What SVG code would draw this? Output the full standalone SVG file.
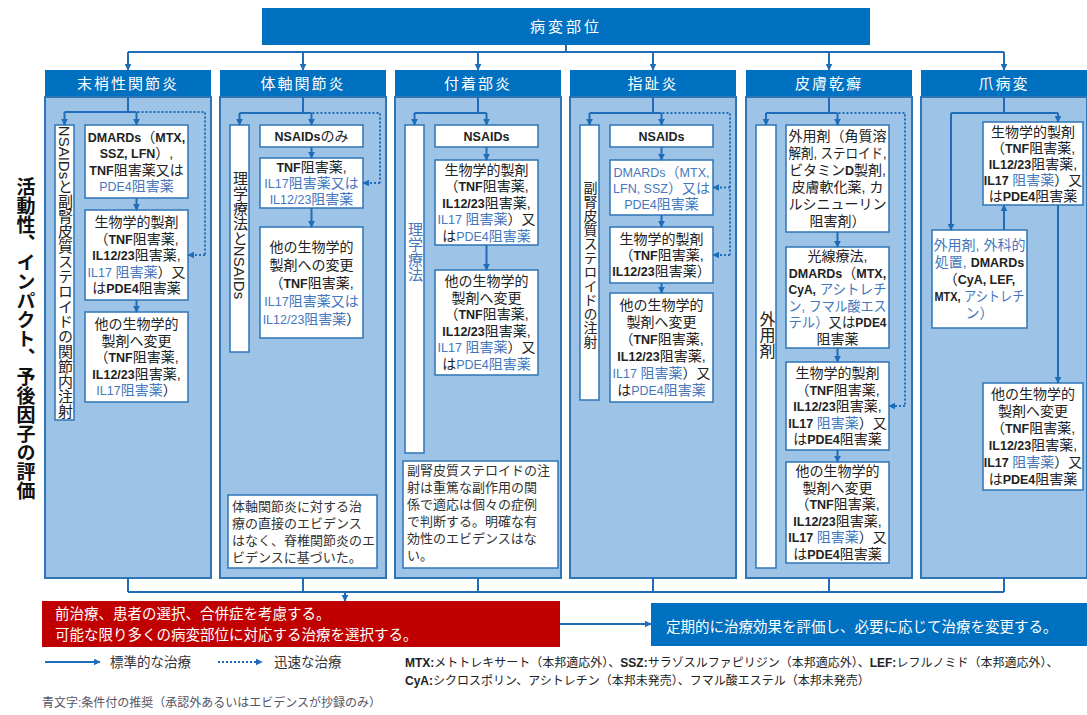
<svg xmlns="http://www.w3.org/2000/svg" width="1087" height="715" viewBox="0 0 1087 715">
<style>
.hd{fill:#0070c0}
.bd{fill:#9dc3e6;stroke:#2e75b6;stroke-width:2}
.bx{fill:#fff;stroke:#2e75b6;stroke-width:1.5}
.ln{fill:none;stroke:#1f6db8;stroke-width:2}
.dt{fill:none;stroke:#1f6db8;stroke-width:2;stroke-dasharray:2 2}
.ar{marker-end:url(#ah)}
text{font-family:"Liberation Sans","Noto Sans CJK JP",sans-serif}
.t{font-size:14px;fill:#222;text-anchor:middle}
.L{font-weight:bold;font-size:12.5px}
.l{font-size:12.5px}
.B{fill:#4677bd}
.h{font-size:15px;fill:#fff;text-anchor:middle;letter-spacing:2px}
.v{writing-mode:vertical-rl;text-anchor:middle;font-size:15px;fill:#222}
.n{font-size:13px;fill:#333}
.w{font-size:14.5px;fill:#fff}
.f{font-size:12px;fill:#222}
</style>
<defs>
<marker id="ah" viewBox="0 0 10 10" refX="9" refY="5" markerWidth="7" markerHeight="7" markerUnits="userSpaceOnUse" orient="auto"><path d="M0,0 L10,5 L0,10 z" fill="#1f6db8"/></marker>
</defs>

<g id="top">
<rect class="hd" x="262" y="8" width="608" height="37"/>
<text class="h" x="566" y="32" style="letter-spacing:3px">病変部位</text>
</g>

<text id="side-label" x="24" y="339" style="writing-mode:vertical-rl;text-anchor:middle;font-size:19px;font-weight:bold;fill:#111">活動性、インパクト、予後因子の評価</text>

<!-- Column 1 -->
<g id="col1">
<rect class="hd" x="45" y="70" width="166" height="27"/>
<text class="h" x="128" y="89">末梢性関節炎</text>
<rect class="bd" x="45" y="97" width="166" height="481"/>
</g>
<g id="c1-left"><rect class="bx" x="55" y="125" width="19" height="295"/>
<text class="v" x="64.5" y="272.5">NSAIDsと副腎皮質ステロイドの関節内注射</text></g>
<g id="c1-b1"><rect class="bx" x="85" y="125" width="103" height="73"/>
<text class="t" x="136.5" y="142"><tspan class="L">DMARDs</tspan>（<tspan class="L">MTX,</tspan></text>
<text class="t" x="136.5" y="158"><tspan class="L">SSZ, LFN</tspan>）,</text>
<text class="t" x="136.5" y="175"><tspan class="L">TNF</tspan>阻害薬又は</text>
<text class="t" x="136.5" y="191"><tspan class="B l">PDE4</tspan><tspan class="B">阻害薬</tspan></text></g>
<g id="c1-b2"><rect class="bx" x="85" y="210" width="103" height="90"/>
<text class="t" x="136.5" y="227">生物学的製剤</text>
<text class="t" x="136.5" y="243.5">（<tspan class="L">TNF</tspan>阻害薬,</text>
<text class="t" x="136.5" y="260"><tspan class="L">IL12/23</tspan>阻害薬,</text>
<text class="t" x="136.5" y="276.5"><tspan class="B l">IL17 </tspan><tspan class="B">阻害薬</tspan>）又</text>
<text class="t" x="136.5" y="293">は<tspan class="L">PDE4</tspan>阻害薬</text></g>
<g id="c1-b3"><rect class="bx" x="85" y="312" width="103" height="90"/>
<text class="t" x="136.5" y="329">他の生物学的</text>
<text class="t" x="136.5" y="345.5">製剤へ変更</text>
<text class="t" x="136.5" y="362">（<tspan class="L">TNF</tspan>阻害薬,</text>
<text class="t" x="136.5" y="378.5"><tspan class="L">IL12/23</tspan>阻害薬,</text>
<text class="t" x="136.5" y="395"><tspan class="B l">IL17</tspan><tspan class="B">阻害薬</tspan>）</text></g>

<!-- Column 2 -->
<g id="col2">
<rect class="hd" x="220" y="70" width="166" height="27"/>
<text class="h" x="303" y="89">体軸関節炎</text>
<rect class="bd" x="220" y="97" width="166" height="481"/>
</g>
<g id="c2-left"><rect class="bx" x="230" y="125" width="19" height="227"/>
<text class="v" x="239.5" y="235">理学療法とNSAIDs</text></g>
<g id="c2-b1"><rect class="bx" x="260" y="125" width="103" height="22"/>
<text class="t" x="311.5" y="141"><tspan class="L">NSAIDs</tspan>のみ</text></g>
<g id="c2-b2"><rect class="bx" x="260" y="158" width="103" height="50"/>
<text class="t" x="311.5" y="172"><tspan class="L">TNF</tspan>阻害薬,</text>
<text class="t" x="311.5" y="188"><tspan class="B l">IL17</tspan><tspan class="B">阻害薬又は</tspan></text>
<text class="t" x="311.5" y="204"><tspan class="B l">IL12/23</tspan><tspan class="B">阻害薬</tspan></text></g>
<g id="c2-b3"><rect class="bx" x="260" y="227" width="103" height="111"/>
<text class="t" x="311.5" y="251.5">他の生物学的</text>
<text class="t" x="311.5" y="269.5">製剤への変更</text>
<text class="t" x="311.5" y="287.5">（<tspan class="L">TNF</tspan>阻害薬,</text>
<text class="t" x="311.5" y="305.5"><tspan class="B l">IL17</tspan><tspan class="B">阻害薬又は</tspan></text>
<text class="t" x="311.5" y="323.5"><tspan class="B l">IL12/23</tspan><tspan class="B">阻害薬</tspan>）</text></g>
<g id="c2-note"><rect class="bx" x="228" y="495" width="149" height="73"/>
<text class="n" x="232" y="511">体軸関節炎に対する治</text>
<text class="n" x="232" y="528">療の直接のエビデンス</text>
<text class="n" x="232" y="545">はなく、脊椎関節炎のエ</text>
<text class="n" x="232" y="562">ビデンスに基づいた。</text></g>

<!-- Column 3 -->
<g id="col3">
<rect class="hd" x="395" y="70" width="166" height="27"/>
<text class="h" x="478" y="89">付着部炎</text>
<rect class="bd" x="395" y="97" width="166" height="481"/>
</g>
<g id="c3-left"><rect class="bx" x="405" y="125" width="19" height="328"/>
<text class="v" x="414.5" y="252" style="fill:#4677bd">理学療法</text></g>
<g id="c3-b1"><rect class="bx" x="435" y="125" width="103" height="22"/>
<text class="t" x="486.5" y="141"><tspan class="L">NSAIDs</tspan></text></g>
<g id="c3-b2"><rect class="bx" x="435" y="160" width="103" height="85"/>
<text class="t" x="486.5" y="174.5">生物学的製剤</text>
<text class="t" x="486.5" y="191">（<tspan class="L">TNF</tspan>阻害薬,</text>
<text class="t" x="486.5" y="207.5"><tspan class="L">IL12/23</tspan>阻害薬,</text>
<text class="t" x="486.5" y="224"><tspan class="B l">IL17 </tspan><tspan class="B">阻害薬</tspan>）又</text>
<text class="t" x="486.5" y="240.5">は<tspan class="B l">PDE4</tspan><tspan class="B">阻害薬</tspan></text></g>
<g id="c3-b3"><rect class="bx" x="435" y="270" width="103" height="105"/>
<text class="t" x="486.5" y="286">他の生物学的</text>
<text class="t" x="486.5" y="303">製剤へ変更</text>
<text class="t" x="486.5" y="319">（<tspan class="L">TNF</tspan>阻害薬,</text>
<text class="t" x="486.5" y="336"><tspan class="L">IL12/23</tspan>阻害薬,</text>
<text class="t" x="486.5" y="352"><tspan class="B l">IL17 </tspan><tspan class="B">阻害薬</tspan>）又</text>
<text class="t" x="486.5" y="369">は<tspan class="B l">PDE4</tspan><tspan class="B">阻害薬</tspan></text></g>
<g id="c3-note"><rect class="bx" x="403" y="461" width="155" height="107"/>
<text class="n" x="407" y="475">副腎皮質ステロイドの注</text>
<text class="n" x="407" y="492">射は重篤な副作用の関</text>
<text class="n" x="407" y="509">係で適応は個々の症例</text>
<text class="n" x="407" y="526">で判断する。明確な有</text>
<text class="n" x="407" y="543">効性のエビデンスはな</text>
<text class="n" x="407" y="560">い。</text></g>

<!-- Column 4 -->
<g id="col4">
<rect class="hd" x="570" y="70" width="166" height="27"/>
<text class="h" x="653" y="89">指趾炎</text>
<rect class="bd" x="570" y="97" width="166" height="481"/>
</g>
<g id="c4-left"><rect class="bx" x="580" y="125" width="19" height="275"/>
<text class="v" x="589.5" y="265" style="font-size:14px">副腎皮質ステロイドの注射</text></g>
<g id="c4-b1"><rect class="bx" x="610" y="125" width="103" height="22"/>
<text class="t" x="661.5" y="141"><tspan class="L">NSAIDs</tspan></text></g>
<g id="c4-b2"><rect class="bx" x="610" y="160" width="103" height="55"/>
<text class="t B" x="661.5" y="176.5"><tspan class="l">DMARDs</tspan>（<tspan class="l">MTX,</tspan></text>
<text class="t B" x="661.5" y="192.5"><tspan class="l">LFN, SSZ</tspan>）又は</text>
<text class="t B" x="661.5" y="208.5"><tspan class="l">PDE4</tspan>阻害薬</text></g>
<g id="c4-b3"><rect class="bx" x="610" y="227" width="103" height="56"/>
<text class="t" x="661.5" y="244">生物学的製剤</text>
<text class="t" x="661.5" y="260">（<tspan class="L">TNF</tspan>阻害薬,</text>
<text class="t" x="661.5" y="276"><tspan class="L">IL12/23</tspan>阻害薬）</text></g>
<g id="c4-b4"><rect class="bx" x="610" y="293" width="103" height="109"/>
<text class="t" x="661.5" y="310">他の生物学的</text>
<text class="t" x="661.5" y="327">製剤へ変更</text>
<text class="t" x="661.5" y="344">（<tspan class="L">TNF</tspan>阻害薬,</text>
<text class="t" x="661.5" y="361"><tspan class="L">IL12/23</tspan>阻害薬,</text>
<text class="t" x="661.5" y="378"><tspan class="B l">IL17 </tspan><tspan class="B">阻害薬</tspan>）又</text>
<text class="t" x="661.5" y="395">は<tspan class="B l">PDE4</tspan><tspan class="B">阻害薬</tspan></text></g>

<!-- Column 5 -->
<g id="col5">
<rect class="hd" x="746" y="70" width="166" height="27"/>
<text class="h" x="829" y="89">皮膚乾癬</text>
<rect class="bd" x="746" y="97" width="166" height="481"/>
</g>
<g id="c5-left"><rect class="bx" x="756" y="125" width="20" height="443"/>
<text class="v" x="766" y="335" style="font-size:16px">外用剤</text></g>
<g id="c5-b1"><rect class="bx" x="786" y="125" width="103" height="107"/>
<text class="t" x="837.5" y="141">外用剤（角質溶</text>
<text class="t" x="837.5" y="158" textLength="98" lengthAdjust="spacingAndGlyphs">解剤, ステロイド,</text>
<text class="t" x="837.5" y="175">ビタミン<tspan class="L">D</tspan>製剤,</text>
<text class="t" x="837.5" y="192">皮膚軟化薬, カ</text>
<text class="t" x="837.5" y="209">ルシニューリン</text>
<text class="t" x="837.5" y="226">阻害剤）</text></g>
<g id="c5-b2"><rect class="bx" x="786" y="247" width="103" height="101"/>
<text class="t" x="837.5" y="261">光線療法,</text>
<text class="t" x="837.5" y="278"><tspan class="L">DMARDs</tspan>（<tspan class="L">MTX,</tspan></text>
<text class="t" x="837.5" y="294" textLength="98" lengthAdjust="spacingAndGlyphs"><tspan class="L">CyA,</tspan> <tspan class="B">アシトレチ</tspan></text>
<text class="t B" x="837.5" y="311" textLength="98" lengthAdjust="spacingAndGlyphs">ン, フマル酸エス</text>
<text class="t" x="837.5" y="327" textLength="98" lengthAdjust="spacingAndGlyphs"><tspan class="B">テル）</tspan>又は<tspan class="L">PDE4</tspan></text>
<text class="t" x="837.5" y="344">阻害薬</text></g>
<g id="c5-b3"><rect class="bx" x="786" y="362" width="103" height="88"/>
<text class="t" x="837.5" y="378">生物学的製剤</text>
<text class="t" x="837.5" y="394.5">（<tspan class="L">TNF</tspan>阻害薬,</text>
<text class="t" x="837.5" y="411"><tspan class="L">IL12/23</tspan>阻害薬,</text>
<text class="t" x="837.5" y="427.5"><tspan class="L">IL17 </tspan><tspan class="B">阻害薬</tspan>）又</text>
<text class="t" x="837.5" y="444">は<tspan class="L">PDE4</tspan>阻害薬</text></g>
<g id="c5-b4"><rect class="bx" x="786" y="462" width="103" height="101"/>
<text class="t" x="837.5" y="476">他の生物学的</text>
<text class="t" x="837.5" y="493">製剤へ変更</text>
<text class="t" x="837.5" y="509">（<tspan class="L">TNF</tspan>阻害薬,</text>
<text class="t" x="837.5" y="526"><tspan class="L">IL12/23</tspan>阻害薬,</text>
<text class="t" x="837.5" y="542"><tspan class="L">IL17 </tspan><tspan class="B">阻害薬</tspan>）又</text>
<text class="t" x="837.5" y="559">は<tspan class="L">PDE4</tspan>阻害薬</text></g>

<!-- Column 6 -->
<g id="col6">
<rect class="hd" x="921" y="70" width="166" height="27"/>
<text class="h" x="1004" y="89">爪病変</text>
<rect class="bd" x="921" y="97" width="166" height="481"/>
</g>
<g id="c6-b1"><rect class="bx" x="983" y="122" width="100" height="83"/>
<text class="t" x="1033" y="136.5">生物学的製剤</text>
<text class="t" x="1033" y="152.5">（<tspan class="L">TNF</tspan>阻害薬,</text>
<text class="t" x="1033" y="168.5"><tspan class="L">IL12/23</tspan>阻害薬,</text>
<text class="t" x="1033" y="184.5"><tspan class="L">IL17 </tspan><tspan class="B">阻害薬</tspan>）又</text>
<text class="t" x="1033" y="200.5">は<tspan class="L">PDE4</tspan>阻害薬</text></g>
<g id="c6-b2"><rect class="bx" x="932" y="230" width="95" height="98"/>
<text class="t B" x="979.5" y="250">外用剤, 外科的</text>
<text class="t" x="979.5" y="267"><tspan class="B">処置, </tspan><tspan class="L">DMARDs</tspan></text>
<text class="t" x="979.5" y="284">（<tspan class="L">CyA, LEF,</tspan></text>
<text class="t" x="979.5" y="301" textLength="90" lengthAdjust="spacingAndGlyphs"><tspan class="L">MTX,</tspan> <tspan class="B">アシトレチ</tspan></text>
<text class="t B" x="979.5" y="318">ン）</text></g>
<g id="c6-b3"><rect class="bx" x="983" y="383" width="100" height="107"/>
<text class="t" x="1033" y="399">他の生物学的</text>
<text class="t" x="1033" y="416">製剤へ変更</text>
<text class="t" x="1033" y="433">（<tspan class="L">TNF</tspan>阻害薬,</text>
<text class="t" x="1033" y="450"><tspan class="L">IL12/23</tspan>阻害薬,</text>
<text class="t" x="1033" y="467"><tspan class="L">IL17 </tspan><tspan class="B">阻害薬</tspan>）又</text>
<text class="t" x="1033" y="484">は<tspan class="L">PDE4</tspan>阻害薬</text></g>

<!-- Bottom boxes -->
<g id="consider">
<rect x="42" y="601" width="518" height="46" fill="#c00000"/>
<text class="w" x="55" y="619">前治療、患者の選択、合併症を考慮する。</text>
<text class="w" x="55" y="640">可能な限り多くの病変部位に対応する治療を選択する。</text>
</g>
<g id="evaluate">
<rect x="651" y="603" width="436" height="43" fill="#0070c0"/>
<text class="w" x="666" y="632">定期的に治療効果を評価し、必要に応じて治療を変更する。</text>
</g>

<g id="connectors">
<path class="ln" d="M566,45 V52 M128,52 H1004"/>
<path class="ln ar" d="M128,52 V70"/><path class="ln ar" d="M303,52 V70"/><path class="ln ar" d="M478,52 V70"/>
<path class="ln ar" d="M653,52 V70"/><path class="ln ar" d="M829,52 V70"/><path class="ln ar" d="M1004,52 V70"/>
<!-- col1 -->
<path class="ln" d="M128,97 V112 M64.5,112 H136.5"/>
<path class="ln ar" d="M64.5,112 V125"/><path class="ln ar" d="M136.5,112 V125"/>
<path class="dt" d="M137.5,112 H205 V255"/><path class="dt ar" d="M205,255 H188"/>
<path class="ln ar" d="M136.5,198 V210"/><path class="ln ar" d="M136.5,300 V312"/>
<!-- col2 -->
<path class="ln" d="M303,97 V113 M239.5,113 H311.5"/>
<path class="ln ar" d="M239.5,113 V125"/><path class="ln ar" d="M311.5,113 V125"/>
<path class="dt" d="M312.5,113 H380 V183"/><path class="dt ar" d="M380,183 H363"/>
<path class="ln ar" d="M311.5,147 V158"/><path class="ln ar" d="M311.5,208 V227"/>
<!-- col3 -->
<path class="ln" d="M478,97 V113 M414.5,113 H486.5"/>
<path class="ln ar" d="M414.5,113 V125"/><path class="ln ar" d="M486.5,113 V125"/>
<path class="ln ar" d="M486.5,147 V160"/><path class="ln ar" d="M486.5,245 V270"/>
<!-- col4 -->
<path class="ln" d="M653,97 V113 M589.5,113 H661.5"/>
<path class="ln ar" d="M589.5,113 V125"/><path class="ln ar" d="M661.5,113 V125"/>
<path class="dt" d="M662.5,113 H730 V255"/><path class="dt ar" d="M730,187.5 H713"/><path class="dt ar" d="M730,255 H713"/>
<path class="ln ar" d="M661.5,147 V160"/><path class="ln ar" d="M661.5,215 V227"/><path class="ln ar" d="M661.5,283 V293"/>
<!-- col5 -->
<path class="ln" d="M829,97 V113 M766,113 H837.5"/>
<path class="ln ar" d="M766,113 V125"/><path class="ln ar" d="M837.5,113 V125"/>
<path class="dt" d="M838.5,113 H905 V406"/><path class="dt ar" d="M905,406 H889"/>
<path class="ln ar" d="M837.5,232 V247"/><path class="ln ar" d="M837.5,348 V362"/><path class="ln ar" d="M837.5,450 V462"/>
<!-- col6 -->
<path class="ln" d="M1004,97 V113 M951,113 H1058"/>
<path class="ln ar" d="M1058,113 V122"/><path class="ln ar" d="M951,113 V230"/>
<path class="ln ar" d="M1004,230 V205"/><path class="ln ar" d="M1058,205 V383"/>
<!-- bottom -->
<path class="ln" d="M128,578 V592 M303,578 V592 M478,578 V592 M653,578 V592 M829,578 V592 M1004,578 V592 M128,592 H1004"/>
<path class="ln ar" d="M345,592 V601"/>
<path class="ln ar" d="M560,624 H651"/>
</g>

<g id="legend">
<path class="ln ar" d="M45,662 H100"/>
<text class="n" x="110" y="667" style="font-size:13.5px">標準的な治療</text>
<path class="dt ar" d="M218,662 H262"/>
<text class="n" x="274" y="667" style="font-size:13.5px">迅速な治療</text>
</g>
<g id="footnotes">
<text class="f" x="405" y="667"><tspan font-weight="bold">MTX:</tspan>メトトレキサート（本邦適応外）、<tspan font-weight="bold">SSZ:</tspan>サラゾスルファピリジン（本邦適応外）、<tspan font-weight="bold">LEF:</tspan>レフルノミド（本邦適応外）、</text>
<text class="f" x="405" y="685"><tspan font-weight="bold">CyA:</tspan>シクロスポリン、アシトレチン（本邦未発売）、フマル酸エステル（本邦未発売）</text>
<text class="f" x="42" y="707" style="fill:#556">青文字:条件付の推奨（承認外あるいはエビデンスが抄録のみ）</text>
</g>
</svg>
